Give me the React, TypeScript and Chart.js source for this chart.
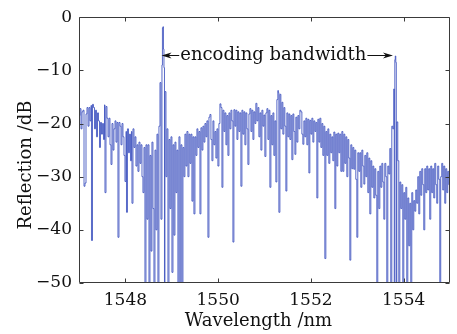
import React, { useEffect, useRef } from 'react';
import { Chart, registerables } from 'chart.js';

Chart.register(...registerables);

// Wavelength samples (nm)
const wavelength = [
  1547.000, 1547.022, 1547.043, 1547.065, 1547.086, 1547.108, 1547.129, 1547.151, 1547.172, 1547.194,
  1547.216, 1547.237, 1547.259, 1547.269, 1547.291, 1547.312, 1547.334, 1547.356, 1547.377, 1547.399,
  1547.420, 1547.442, 1547.463, 1547.485, 1547.506, 1547.528, 1547.550, 1547.560, 1547.582, 1547.603,
  1547.625, 1547.647, 1547.668, 1547.690, 1547.711, 1547.733, 1547.754, 1547.776, 1547.797, 1547.819,
  1547.840, 1547.862, 1547.884, 1547.905, 1547.927, 1547.948, 1547.970, 1547.991, 1548.013, 1548.024,
  1548.045, 1548.067, 1548.088, 1548.110, 1548.131, 1548.142, 1548.164, 1548.185, 1548.207, 1548.228,
  1548.250, 1548.271, 1548.293, 1548.315, 1548.336, 1548.358, 1548.379, 1548.401, 1548.422, 1548.444,
  1548.465, 1548.487, 1548.509, 1548.530, 1548.552, 1548.573, 1548.595, 1548.616, 1548.638, 1548.659,
  1548.681, 1548.702, 1548.724, 1548.746, 1548.767, 1548.789, 1548.799, 1548.810, 1548.821, 1548.832,
  1548.843, 1548.853, 1548.875, 1548.896, 1548.918, 1548.940, 1548.961, 1548.983, 1549.004, 1549.026,
  1549.047, 1549.069, 1549.090, 1549.112, 1549.133, 1549.155, 1549.177, 1549.198, 1549.220, 1549.241,
  1549.263, 1549.284, 1549.306, 1549.327, 1549.349, 1549.371, 1549.392, 1549.414, 1549.435, 1549.457,
  1549.478, 1549.500, 1549.521, 1549.543, 1549.564, 1549.586, 1549.608, 1549.629, 1549.651, 1549.672,
  1549.694, 1549.715, 1549.737, 1549.758, 1549.780, 1549.802, 1549.823, 1549.845, 1549.866, 1549.888,
  1549.909, 1549.931, 1549.952, 1549.974, 1549.995, 1550.017, 1550.039, 1550.060, 1550.082, 1550.103,
  1550.125, 1550.146, 1550.168, 1550.189, 1550.211, 1550.233, 1550.254, 1550.276, 1550.297, 1550.319,
  1550.340, 1550.362, 1550.383, 1550.405, 1550.426, 1550.448, 1550.470, 1550.491, 1550.513, 1550.534,
  1550.556, 1550.577, 1550.599, 1550.620, 1550.642, 1550.664, 1550.685, 1550.707, 1550.728, 1550.750,
  1550.771, 1550.793, 1550.814, 1550.836, 1550.858, 1550.879, 1550.901, 1550.922, 1550.944, 1550.965,
  1550.987, 1551.008, 1551.030, 1551.052, 1551.073, 1551.095, 1551.116, 1551.138, 1551.159, 1551.181,
  1551.202, 1551.224, 1551.245, 1551.267, 1551.288, 1551.299, 1551.310, 1551.332, 1551.353, 1551.375,
  1551.396, 1551.418, 1551.439, 1551.461, 1551.482, 1551.504, 1551.526, 1551.547, 1551.569, 1551.590,
  1551.612, 1551.633, 1551.655, 1551.676, 1551.698, 1551.720, 1551.741, 1551.763, 1551.784, 1551.806,
  1551.827, 1551.849, 1551.870, 1551.892, 1551.913, 1551.935, 1551.957, 1551.978, 1552.000, 1552.021,
  1552.043, 1552.064, 1552.086, 1552.107, 1552.129, 1552.150, 1552.172, 1552.193, 1552.215, 1552.237,
  1552.258, 1552.280, 1552.301, 1552.323, 1552.344, 1552.366, 1552.387, 1552.409, 1552.430, 1552.452,
  1552.473, 1552.495, 1552.517, 1552.538, 1552.560, 1552.581, 1552.603, 1552.624, 1552.646, 1552.668,
  1552.689, 1552.711, 1552.732, 1552.754, 1552.775, 1552.797, 1552.818, 1552.840, 1552.861, 1552.883,
  1552.904, 1552.926, 1552.947, 1552.969, 1552.991, 1553.012, 1553.034, 1553.056, 1553.077, 1553.099,
  1553.120, 1553.142, 1553.163, 1553.185, 1553.206, 1553.228, 1553.250, 1553.271, 1553.293, 1553.314,
  1553.336, 1553.357, 1553.379, 1553.400, 1553.422, 1553.443, 1553.465, 1553.487, 1553.508, 1553.530,
  1553.551, 1553.573, 1553.594, 1553.616, 1553.637, 1553.659, 1553.680, 1553.702, 1553.723, 1553.745,
  1553.766, 1553.788, 1553.798, 1553.810, 1553.820, 1553.831, 1553.842, 1553.853, 1553.874, 1553.896,
  1553.918, 1553.939, 1553.961, 1553.982, 1554.004, 1554.025, 1554.047, 1554.068, 1554.090, 1554.111,
  1554.133, 1554.154, 1554.176, 1554.197, 1554.219, 1554.240, 1554.262, 1554.283, 1554.305, 1554.327,
  1554.348, 1554.370, 1554.391, 1554.413, 1554.434, 1554.456, 1554.477, 1554.499, 1554.520, 1554.542,
  1554.563, 1554.585, 1554.606, 1554.628, 1554.649, 1554.671, 1554.693, 1554.714, 1554.735, 1554.757,
  1554.780, 1554.800, 1554.822, 1554.843, 1554.865, 1554.887, 1554.908, 1554.930, 1554.951, 1554.973,
  1554.994,
];

// Reflection (dB)
const reflection = [
  -18.5, -17.2, -21.0, -17.8, -17.5, -31.8, -31.2, -18.2, -17.0, -20.5,
  -17.0, -19.5, -16.6, -42.0, -16.4, -17.0, -21.0, -17.5, -22.5, -18.0,
  -19.5, -24.5, -19.8, -22.0, -20.0, -23.0, -16.5, -33.0, -16.8, -19.0,
  -22.5, -19.0, -24.0, -27.7, -20.0, -25.0, -21.0, -19.5, -23.5, -19.8,
  -41.4, -19.8, -20.5, -24.0, -20.0, -22.5, -26.0, -30.9, -21.5, -36.7,
  -21.0, -25.5, -22.0, -27.0, -21.5, -35.0, -21.0, -24.5, -22.5, -28.0,
  -24.0, -29.0, -23.5, -27.5, -24.0, -30.0, -33.0, -24.5, -52.0, -24.0,
  -38.0, -24.0, -52.0, -26.0, -44.0, -23.5, -36.0, -52.0, -25.0, -40.0,
  -22.0, -52.0, -20.5, -12.3, -38.0, -9.0, -2.0, -1.8, -6.0, -9.5,
  -52.0, -14.0, -30.0, -21.0, -52.0, -23.0, -36.0, -22.5, -48.0, -24.0,
  -41.0, -23.5, -33.0, -25.0, -52.0, -22.5, -52.0, -24.0, -52.0, -24.5,
  -30.0, -22.0, -28.0, -21.5, -30.0, -22.0, -27.5, -22.0, -34.6, -22.5,
  -37.0, -22.5, -26.0, -21.0, -24.5, -21.5, -37.0, -20.8, -25.0, -20.5,
  -23.5, -20.0, -22.5, -19.5, -41.4, -18.8, -18.3, -23.0, -27.0, -19.5,
  -24.0, -21.5, -26.5, -21.0, -28.0, -20.0, -16.3, -17.0, -32.0, -17.5,
  -21.5, -18.0, -24.0, -18.5, -26.0, -18.0, -21.0, -17.5, -19.5, -42.3,
  -17.4, -20.5, -17.5, -23.0, -17.8, -21.5, -18.0, -31.8, -17.5, -22.0,
  -17.8, -24.0, -18.0, -21.0, -27.7, -18.2, -17.2, -21.5, -17.5, -23.0,
  -17.8, -20.0, -16.2, -19.5, -17.0, -22.5, -18.0, -25.0, -17.5, -20.5,
  -18.4, -26.2, -18.0, -17.2, -23.0, -17.5, -32.0, -18.5, -24.0, -18.0,
  -26.0, -19.5, -31.0, -15.5, -13.8, -14.2, -36.7, -14.5, -21.0, -16.0,
  -22.0, -17.0, -20.5, -32.7, -18.0, -22.5, -18.2, -23.0, -18.5, -26.8,
  -18.2, -21.5, -25.8, -18.8, -23.5, -18.5, -21.0, -17.5, -17.8, -22.0,
  -23.9, -19.5, -22.5, -19.0, -24.0, -19.2, -29.3, -19.4, -22.0, -19.0,
  -23.5, -19.5, -21.5, -19.8, -34.0, -19.2, -23.5, -19.0, -24.5, -20.0,
  -26.0, -20.5, -45.4, -21.5, -26.0, -21.0, -27.5, -22.0, -25.5, -22.5,
  -27.0, -21.6, -36.0, -22.0, -28.0, -21.8, -25.5, -22.0, -29.0, -21.5,
  -29.0, -22.0, -27.5, -22.5, -30.0, -23.0, -26.5, -45.7, -24.0, -28.5,
  -24.5, -28.6, -25.0, -30.5, -41.4, -25.5, -29.0, -25.5, -32.0, -25.0,
  -28.0, -31.4, -26.0, -30.0, -25.5, -33.0, -26.5, -37.0, -27.0, -32.0,
  -28.0, -34.0, -28.5, -33.5, -52.0, -29.0, -36.0, -28.0, -32.0, -27.5,
  -31.0, -38.0, -27.5, -30.0, -52.0, -28.0, -29.5, -24.7, -52.0, -20.5,
  -21.0, -13.5, -52.0, -8.0, -7.3, -8.5, -52.0, -19.7, -27.0, -52.0,
  -31.0, -36.0, -31.5, -52.0, -33.0, -38.0, -32.0, -52.0, -34.0, -43.0,
  -35.0, -52.0, -33.0, -40.0, -34.5, -36.5, -32.5, -35.0, -30.0, -37.0,
  -29.0, -33.5, -28.5, -31.5, -40.0, -28.5, -33.0, -28.0, -32.5, -28.5,
  -38.0, -28.0, -33.0, -28.5, -34.0, -27.5, -31.5, -35.0, -28.0, -30.5,
  -52.0, -30.0, -27.5, -32.5, -28.0, -35.0, -28.5, -33.0, -29.0, -31.5,
  -31.8,
];

const xTickValues = [1548, 1550, 1552, 1554];
const yTickValues = [0, -10, -20, -30, -40, -50];
const xTitle = 'Wavelength /nm';
const yTitle = 'Reflection /dB';
const noteText = 'encoding bandwidth';
const noteLeft = 1548.78;
const noteRight = 1553.77;
const noteCenter = 1551.19;
const noteLevel = -7.2;

const FONT_FAMILY = '"DejaVu Serif", "Liberation Serif", serif';
const TEXT_COLOR = '#111111';

const decorPlugin = {
  id: 'decor',
  beforeDraw(chart: any) {
    const { ctx, width, height } = chart;
    ctx.save();
    ctx.fillStyle = '#ffffff';
    ctx.fillRect(0, 0, width, height);
    ctx.restore();
  },
  afterDatasetsDraw(chart: any) {
    const { ctx, chartArea: a, scales } = chart;
    const xs = scales.x;
    const ys = scales.y;
    ctx.save();
    ctx.strokeStyle = '#3a3a3a';
    ctx.lineWidth = 1;
    const L = Math.round(a.left) + 0.5;
    const T = Math.round(a.top) + 0.5;
    const R = Math.round(a.right) - 0.5;
    const B = Math.round(a.bottom) - 0.5;
    ctx.beginPath();
    ctx.rect(L, T, R - L, B - T);
    ctx.stroke();
    ctx.beginPath();
    xTickValues.forEach((v) => {
      const px = Math.round(xs.getPixelForValue(v)) + 0.5;
      ctx.moveTo(px, B);
      ctx.lineTo(px, B - 4);
      ctx.moveTo(px, T);
      ctx.lineTo(px, T + 4);
    });
    yTickValues.forEach((v) => {
      const py = Math.round(ys.getPixelForValue(v)) + 0.5;
      ctx.moveTo(L, py);
      ctx.lineTo(L + 4, py);
      ctx.moveTo(R, py);
      ctx.lineTo(R - 4, py);
    });
    ctx.stroke();

    // annotation
    ctx.font = `18px ${FONT_FAMILY}`;
    ctx.fillStyle = TEXT_COLOR;
    ctx.strokeStyle = TEXT_COLOR;
    const yN = ys.getPixelForValue(noteLevel);
    const xc = xs.getPixelForValue(noteCenter);
    const tw = ctx.measureText(noteText).width;
    ctx.textAlign = 'center';
    ctx.textBaseline = 'middle';
    ctx.fillText(noteText, xc, yN);
    const xl = xs.getPixelForValue(noteLeft);
    const xr = xs.getPixelForValue(noteRight);
    const tl = xc - tw / 2 - 1;
    const tr = xc + tw / 2 + 1;
    const yl = Math.round(yN) + 0.5;
    ctx.beginPath();
    ctx.moveTo(tl, yl);
    ctx.lineTo(xl + 6, yl);
    ctx.moveTo(tr, yl);
    ctx.lineTo(xr - 6, yl);
    ctx.stroke();
    ctx.beginPath();
    ctx.moveTo(xl, yl);
    ctx.lineTo(xl + 10, yl - 3);
    ctx.lineTo(xl + 7, yl);
    ctx.lineTo(xl + 10, yl + 3);
    ctx.closePath();
    ctx.fill();
    ctx.beginPath();
    ctx.moveTo(xr, yl);
    ctx.lineTo(xr - 10, yl - 3);
    ctx.lineTo(xr - 7, yl);
    ctx.lineTo(xr - 10, yl + 3);
    ctx.closePath();
    ctx.fill();

    // axis titles
    ctx.textAlign = 'center';
    ctx.textBaseline = 'alphabetic';
    ctx.fillText(xTitle, (a.left + a.right) / 2 - 6, 326);
    ctx.save();
    ctx.translate(31, 165);
    ctx.rotate(-Math.PI / 2);
    ctx.fillText(yTitle, 0, 0);
    ctx.restore();
    ctx.restore();
  },
};

export default function App() {
  const ref = useRef<HTMLCanvasElement | null>(null);
  useEffect(() => {
    if (!ref.current) return;
    const points = wavelength.map((w, i) => ({ x: w, y: reflection[i] }));
    const font = { family: FONT_FAMILY, size: 17 };
    const chart = new Chart(ref.current, {
      type: 'line',
      data: {
        datasets: [
          {
            data: points,
            borderColor: 'rgba(60,80,190,0.85)',
            borderWidth: 1,
            pointRadius: 0,
            tension: 0,
            stepped: true,
            fill: false,
          },
        ],
      },
      options: {
        responsive: false,
        animation: false,
        devicePixelRatio: 1,
        layout: { padding: { left: 0, top: 14, right: 7, bottom: 0 } },
        plugins: { legend: { display: false }, tooltip: { enabled: false } },
        scales: {
          x: {
            type: 'linear',
            min: 1547,
            max: 1555,
            afterBuildTicks: (s: any) => {
              s.ticks = xTickValues.map((v) => ({ value: v }));
            },
            afterFit: (s: any) => {
              s.height = 51;
            },
            grid: { display: false, drawTicks: false },
            border: { display: false },
            ticks: {
              font,
              color: TEXT_COLOR,
              padding: 7,
              maxRotation: 0,
              autoSkip: false,
              callback: (v: any) => String(v),
            },
          },
          y: {
            type: 'linear',
            min: -50,
            max: 0,
            afterBuildTicks: (s: any) => {
              s.ticks = yTickValues.map((v) => ({ value: v }));
            },
            afterFit: (s: any) => {
              s.width = 79;
            },
            grid: { display: false, drawTicks: false },
            border: { display: false },
            ticks: {
              font,
              color: TEXT_COLOR,
              padding: 7,
              autoSkip: false,
              callback: (v: any) => String(v).replace('-', '\u2212'),
            },
          },
        },
      },
      plugins: [decorPlugin],
    } as any);
    return () => chart.destroy();
  }, []);
  return (
    <div style={{ position: 'fixed', left: 0, top: 0, width: 457, height: 334, background: '#fff' }}>
      <canvas ref={ref} width={457} height={334} style={{ display: 'block', width: 457, height: 334 }} />
    </div>
  );
}
